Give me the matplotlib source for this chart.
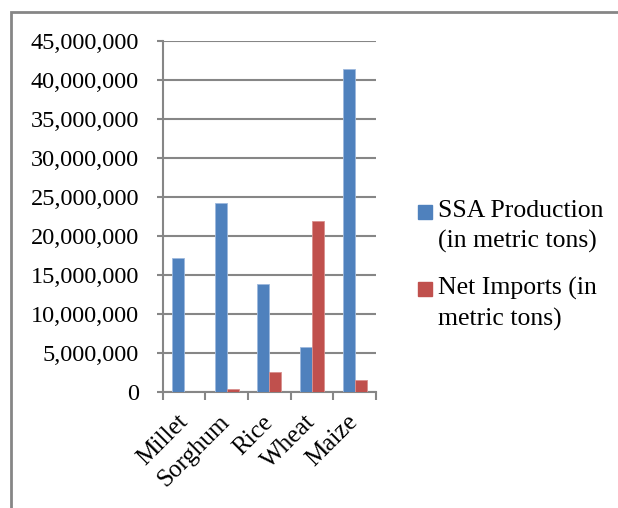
import matplotlib.pyplot as plt
import numpy as np
from matplotlib.patches import Rectangle
from matplotlib.ticker import FuncFormatter

# Cores
azul = "#4F81BD"
vermelho = "#C0504D"
cinza = "#868686"

culturas = ["Millet", "Sorghum", "Rice", "Wheat", "Maize"]
producao = [17200000, 24250000, 13850000, 5750000, 41350000]
importacoes = [0, 380000, 2600000, 21950000, 1570000]
legendas = ["SSA Production\n(in metric tons)", "Net Imports (in\nmetric tons)"]

plt.rcParams["font.family"] = ["Liberation Serif", "DejaVu Serif"]

fig = plt.figure(figsize=(6.18, 5.08), dpi=100)
ax = fig.add_axes([0.2633, 0.2278, 0.3451, 0.6921])

x = np.arange(len(culturas))
larg = 0.28
b1 = ax.bar(x - larg / 2, producao, larg, color=azul, edgecolor="#9DB9DE", linewidth=0.6, zorder=3)
b2 = ax.bar(x + larg / 2, importacoes, larg, color=vermelho, edgecolor="#D9908E", linewidth=0.6, zorder=3)

ax.set_xlim(-0.5, len(culturas) - 0.5)
ax.set_ylim(0, 45000000)
ax.set_yticks(np.arange(0, 45000001, 5000000))
ax.yaxis.set_major_formatter(FuncFormatter(lambda v, p: f"{int(v):,}"))
ax.grid(axis="y", color=cinza, linewidth=1.5, zorder=0)

# ticks do eixo x ficam entre as categorias
ax.set_xticks(np.arange(-0.5, len(culturas), 1.0))
ax.set_xticklabels([])
ax.set_xticks(x, minor=True)
ax.set_xticklabels(culturas, minor=True, rotation=45, ha="right", va="center",
                   rotation_mode="anchor", fontsize=18)
ax.tick_params(axis="x", which="minor", length=0, pad=19)
ax.tick_params(axis="x", which="major", length=5.5, width=1.5, color=cinza)
ax.tick_params(axis="y", length=4, width=1.5, color=cinza, labelsize=17.5, pad=13)

for lado in ["top", "right"]:
    ax.spines[lado].set_visible(False)
ax.spines["left"].set_color(cinza)
ax.spines["left"].set_linewidth(1.5)
ax.spines["bottom"].set_color(cinza)
ax.spines["bottom"].set_linewidth(1.5)

# legenda desenhada a mao, quadrado alinhado com a primeira linha
for i, (barras, texto) in enumerate(zip([b1, b2], legendas)):
    y0 = 1 - 212 / 508 - i * 77 / 508
    fig.patches.append(Rectangle((418 / 618, y0 - 7 / 508), 14 / 618, 14 / 508,
                                 transform=fig.transFigure,
                                 color=barras.patches[0].get_facecolor()))
    fig.text(438 / 618, y0 + 12 / 508, texto, fontsize=18.5, va="top", ha="left",
             linespacing=1.42)

# moldura da area do grafico
fig.patches.append(Rectangle((11 / 618, -0.1), 1.1, 1 - 12 / 508 + 0.1,
                             transform=fig.transFigure, fill=False,
                             edgecolor=cinza, linewidth=2))

fig.savefig("out.png", dpi=100)
